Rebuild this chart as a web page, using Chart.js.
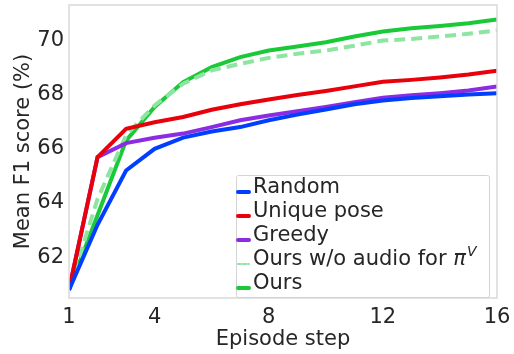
<!DOCTYPE html>
<html>
<head>
<meta charset="utf-8">
<script src="https://cdn.jsdelivr.net/npm/chart.js@4"></script>
<style>
  html, body { margin: 0; padding: 0; background: #fff; }
  #wrap { width: 514px; height: 354px; }
</style>
</head>
<body>
<div id="wrap"><canvas id="f1Chart" width="514" height="354"></canvas></div>
<script>
// episode steps 1..16
const steps = [1, 2, 3, 4, 5, 6, 7, 8, 9, 10, 11, 12, 13, 14, 15, 16];
const xTicks = [1, 4, 8, 12, 16];
const yTicks = [62, 64, 66, 68, 70];

const random     = [60.8, 63.2, 65.2, 66.0, 66.41, 66.64, 66.8, 67.05, 67.26, 67.45, 67.64, 67.78, 67.87, 67.94, 68.0, 68.05];
const uniquePose = [60.8, 65.69, 66.74, 66.98, 67.17, 67.44, 67.64, 67.82, 67.98, 68.13, 68.3, 68.47, 68.54, 68.63, 68.74, 68.88];
const greedy     = [60.8, 65.69, 66.21, 66.41, 66.56, 66.8, 67.05, 67.23, 67.38, 67.54, 67.72, 67.88, 67.97, 68.05, 68.15, 68.3];
const oursNoAudio = [60.8, 64.15, 66.5, 67.6, 68.4, 68.89, 69.13, 69.35, 69.5, 69.62, 69.8, 69.99, 70.05, 70.14, 70.24, 70.36];
const ours       = [60.8, 63.55, 66.3, 67.54, 68.46, 69.01, 69.38, 69.62, 69.77, 69.93, 70.14, 70.32, 70.44, 70.53, 70.63, 70.77];

const FONT = 'DejaVu Sans';
const TXT = '#262626';

function pts(vals) {
  return vals.map((v, i) => ({ x: steps[i], y: v }));
}

// no extra room for edge labels, layout padding decides the plot box
function noEdgePad(s) {
  s.paddingTop = 0; s.paddingBottom = 0; s.paddingLeft = 0; s.paddingRight = 0;
}

// box round the plot area
const frame = {
  id: 'frame',
  afterDraw(chart) {
    const a = chart.chartArea, c = chart.ctx;
    c.save();
    c.strokeStyle = '#d9d9d9';
    c.lineWidth = 1.5;
    c.strokeRect(a.left, a.top, a.right - a.left, a.bottom - a.top);
    c.restore();
  }
};

// legend drawn inside the plot, lower right
const innerLegend = {
  id: 'innerLegend',
  afterDraw(chart) {
    const c = chart.ctx, a = chart.chartArea;
    const boxL = 236, boxT = 175, boxR = a.right - 8, boxB = a.bottom - 1;
    c.save();
    c.fillStyle = 'rgba(255,255,255,0.85)';
    c.strokeStyle = '#d4d4d4';
    c.lineWidth = 1;
    c.beginPath();
    c.roundRect(boxL + 0.5, boxT + 0.5, boxR - boxL, boxB - boxT, 2);
    c.fill();
    c.stroke();
    c.font = '21px ' + FONT;
    c.textBaseline = 'middle';
    chart.data.datasets.forEach((ds, i) => {
      const y = 188 + i * 24;
      c.strokeStyle = ds.borderColor;
      c.lineWidth = ds.borderDash ? 2 : 4;
      c.lineCap = 'round';
      c.setLineDash(ds.borderDash ? [3, 2] : []);
      c.beginPath();
      c.moveTo(238, y + 4);
      c.lineTo(249, y + 4);
      c.stroke();
      c.setLineDash([]);
      c.fillStyle = TXT;
      c.textAlign = 'left';
      c.fillText(ds.label, 253, y);
      if (ds.sup) {
        const w = c.measureText(ds.label).width;
        c.font = 'italic 21px ' + FONT;
        c.fillText('\u03c0', 253 + w, y);
        const pw = c.measureText('\u03c0').width;
        c.font = 'italic 14px ' + FONT;
        c.fillText(ds.sup, 253 + w + pw + 1, y - 8);
        c.font = '21px ' + FONT;
      }
    });
    c.restore();
  }
};

new Chart(document.getElementById('f1Chart'), {
  type: 'line',
  data: {
    datasets: [
      { label: 'Random', data: pts(random), borderColor: '#023eff', borderWidth: 4 },
      { label: 'Unique pose', data: pts(uniquePose), borderColor: '#e8000b', borderWidth: 4 },
      { label: 'Greedy', data: pts(greedy), borderColor: '#8b2be2', borderWidth: 4 },
      { label: 'Ours w/o audio for ', sup: 'V', data: pts(oursNoAudio), borderColor: '#8de5a1', borderWidth: 4, borderDash: [11, 6] },
      { label: 'Ours', data: pts(ours), borderColor: '#1ac938', borderWidth: 4 }
    ]
  },
  options: {
    responsive: false,
    animation: false,
    elements: { point: { radius: 0 }, line: { tension: 0, borderCapStyle: 'butt' } },
    layout: { padding: { top: 5, right: 17, left: 11, bottom: 0 } },
    plugins: { legend: { display: false }, tooltip: { enabled: false } },
    scales: {
      x: {
        type: 'linear', min: 1, max: 16,
        afterBuildTicks: s => { s.ticks = xTicks.map(v => ({ value: v })); },
        afterFit: s => { s.height = 56; noEdgePad(s); },
        grid: { display: false, drawTicks: false },
        border: { display: false },
        ticks: { color: TXT, font: { family: FONT, size: 21 }, padding: 7, maxRotation: 0, autoSkip: false },
        title: { display: true, text: 'Episode step', color: TXT, font: { family: FONT, size: 21 }, padding: { top: 0, bottom: 2 } }
      },
      y: {
        min: 60.5, max: 71.3,
        afterBuildTicks: s => { s.ticks = yTicks.map(v => ({ value: v })); },
        afterFit: s => { s.width = 58; noEdgePad(s); },
        grid: { display: false, drawTicks: false },
        border: { display: false },
        ticks: { color: TXT, font: { family: FONT, size: 21 }, padding: 5, autoSkip: false },
        title: { display: true, text: 'Mean F1 score (%)', color: TXT, font: { family: FONT, size: 21 }, padding: { top: 0, bottom: 0 } }
      }
    }
  },
  plugins: [frame, innerLegend]
});
</script>
</body>
</html>
